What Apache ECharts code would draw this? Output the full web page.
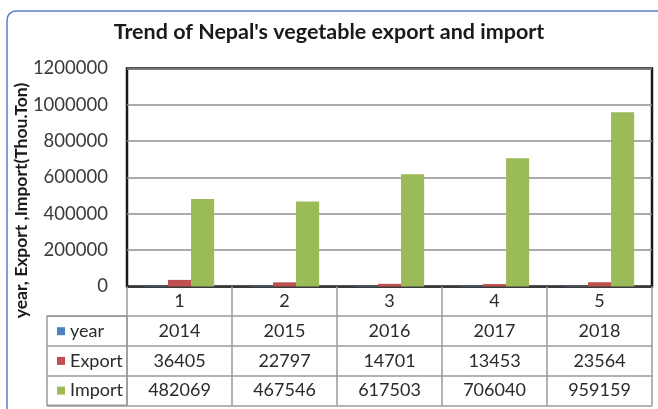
<!DOCTYPE html>
<html>
<head>
<meta charset="utf-8">
<script src="https://cdn.jsdelivr.net/npm/echarts@6/dist/echarts.min.js"></script>
<style>
  html, body { margin: 0; padding: 0; background: #fff; }
  #chart { width: 658px; height: 409px; }
</style>
</head>
<body>
<div id="chart"></div>
<script>
// Nepal vegetable trade, thousand tonnes
const categories = ['1', '2', '3', '4', '5'];
const years = [2014, 2015, 2016, 2017, 2018];
const exportValues = [36405, 22797, 14701, 13453, 23564];
const importValues = [482069, 467546, 617503, 706040, 959159];
const seriesNames = ['year', 'Export', 'Import'];
const seriesColors = ['#4f81bd', '#c0504d', '#9bbb59'];
const yMin = 0, yMax = 1200000, yStep = 200000;

const FONT = 'Lato, "Liberation Sans", sans-serif';
const TABLE_LINE = '#9a9a9a';
const ROW = 29.7;           // height of one data-table row
const PLOT_LEFT = 127, PLOT_TOP = 68.5, PLOT_W = 525, PLOT_H = 218;
const TABLE_FONT = 18;

// One row of the data table under the plot, drawn as an extra category axis
function tableRow(values, index, withLabels) {
  return {
    type: 'category',
    gridIndex: 0,
    position: 'bottom',
    offset: ROW * index,
    data: values.map(String),
    axisLine: { show: true, lineStyle: { color: index === 0 ? '#3a3a3a' : TABLE_LINE, width: index === 0 ? 2 : 1.5 } },
    axisTick: { show: withLabels, length: ROW, lineStyle: { color: TABLE_LINE, width: 1.5 } },
    axisLabel: { show: withLabels, margin: 6, fontSize: TABLE_FONT, color: '#2b2b2b', fontFamily: FONT },
    splitLine: { show: false }
  };
}

// One legend key per table row, in the left column
function legendCell(name, row) {
  return {
    data: [name],
    left: 52,
    top: PLOT_TOP + PLOT_H + ROW * (row + 1) + 1,
    icon: 'rect',
    itemWidth: 8,
    itemHeight: 8,
    selectedMode: false,
    textStyle: { fontFamily: FONT, fontSize: TABLE_FONT, color: '#2b2b2b' }
  };
}

const chart = echarts.init(document.getElementById('chart'), null, { renderer: 'canvas' });

chart.setOption({
  backgroundColor: '#fff',
  animation: false,
  title: {
    text: "Trend of Nepal's vegetable export and import",
    left: 'center',
    top: 16,
    textStyle: { fontFamily: FONT, fontWeight: 'bold', fontSize: 21.5, color: '#1a1a1a' }
  },
  graphic: [{
    type: 'rect',
    silent: true,
    shape: { x: 7, y: 11, width: 720, height: 460, r: 9 },
    style: { fill: 'none', stroke: '#5b7cc9', lineWidth: 1.5 }
  }],
  legend: seriesNames.map(legendCell),
  grid: [
    {
      left: PLOT_LEFT, top: PLOT_TOP, width: PLOT_W, height: PLOT_H,
      show: true, borderColor: '#1a1a1a', borderWidth: 2.5, backgroundColor: '#fff'
    },
    {
      // legend column of the data table
      left: 47, top: PLOT_TOP + PLOT_H + ROW, width: PLOT_LEFT - 47, height: ROW * 3,
      show: true, borderColor: TABLE_LINE, borderWidth: 1.5
    }
  ],
  xAxis: [
    tableRow(categories, 0, true),
    tableRow(years, 1, true),
    tableRow(exportValues, 2, true),
    tableRow(importValues, 3, true),
    tableRow(categories, 4, false),
    { type: 'value', gridIndex: 1, show: false, min: 0, max: 1 }
  ],
  yAxis: [
    {
      type: 'value',
      gridIndex: 0,
      min: yMin, max: yMax, interval: yStep,
      name: 'year, Export ,Import(Thou.Ton)',
      nameLocation: 'middle',
      nameRotate: 90,
      nameGap: 97,
      nameMoveOverlap: false,
      nameTextStyle: { fontFamily: FONT, fontWeight: 'bold', fontSize: 17.5, color: '#1a1a1a', padding: [0, 46, 0, 0] },
      axisLine: { show: false },
      axisTick: { show: false },
      axisLabel: { margin: 19, fontSize: 18.5, color: '#3a3a3a', fontFamily: FONT, formatter: v => String(v) },
      splitLine: { show: true, lineStyle: { color: '#8f8f8f', width: 1.5 } }
    },
    {
      type: 'category',
      gridIndex: 1,
      inverse: true,
      data: seriesNames,
      axisLine: { show: false },
      axisTick: { show: false },
      axisLabel: { show: false },
      splitLine: { show: true, lineStyle: { color: TABLE_LINE, width: 1.5 } }
    }
  ],
  series: [
    { name: 'year', type: 'bar', xAxisIndex: 0, yAxisIndex: 0, data: years, itemStyle: { color: seriesColors[0] }, barGap: '0%', barCategoryGap: '34%' },
    { name: 'Export', type: 'bar', xAxisIndex: 0, yAxisIndex: 0, data: exportValues, itemStyle: { color: seriesColors[1] }, barGap: '0%', barCategoryGap: '34%' },
    { name: 'Import', type: 'bar', xAxisIndex: 0, yAxisIndex: 0, data: importValues, itemStyle: { color: seriesColors[2] }, barGap: '0%', barCategoryGap: '34%' }
  ]
});
</script>
</body>
</html>
